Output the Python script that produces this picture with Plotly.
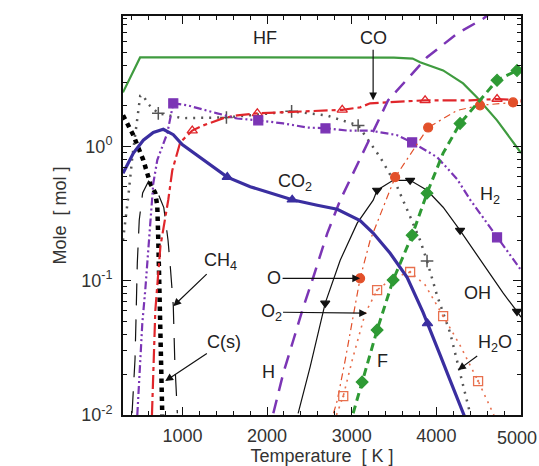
import numpy as np
import plotly.graph_objects as go

# ---------------- data (temperature K, mole) ----------------
HF_T = [298, 500, 1000, 2000, 3000, 3500, 3720, 3808, 4080, 4316, 4481, 4717, 4953, 5000]
HF_v = [2.52, 4.59, 4.59, 4.59, 4.59, 4.58, 4.5, 4.22, 3.67, 2.94, 2.31, 1.56, 0.98, 0.89]

CO_T = [640, 680, 740, 833, 880, 974, 1116, 1246, 1484, 1649, 1885, 2192, 2510, 2888, 3100, 3218, 3867, 4398, 4717, 5000]
CO_v = [0.01, 0.06, 0.18, 0.40, 0.66, 1.07, 1.31, 1.43, 1.62, 1.70, 1.76, 1.79, 1.83, 1.87, 1.95, 2.09, 2.20, 2.20, 2.25, 2.20]
CO_mT = [1116, 1885, 2888, 3867, 4717]
CO_mv = [1.31, 1.76, 1.87, 2.20, 2.25]

CO2_T = [298, 421, 538, 656, 774, 892, 998, 1294, 1530, 1801, 2002, 2297, 2593, 2829, 3099, 3253, 3454, 3654, 3843, 3950, 4044, 4150, 4316, 4340]
CO2_v = [0.63, 0.89, 1.11, 1.27, 1.34, 1.22, 1.03, 0.75, 0.59, 0.50, 0.455, 0.40, 0.364, 0.34, 0.28, 0.226, 0.16, 0.106, 0.058, 0.040, 0.028, 0.019, 0.0103, 0.0095]
CO2_mT = [1530, 2297, 3895]
CO2_mv = [0.59, 0.40, 0.048]

H2_T = [467, 491, 526, 561, 597, 620, 656, 703, 821, 892, 1057, 1411, 1648, 1896, 2192, 2475, 2711, 2947, 3218, 3537, 3714, 4010, 4245, 4400, 4717, 5000]
H2_v = [0.01, 0.0205, 0.048, 0.085, 0.169, 0.296, 0.53, 0.79, 1.25, 2.09, 2.02, 1.76, 1.61, 1.56, 1.48, 1.38, 1.36, 1.31, 1.31, 1.21, 1.07, 0.83, 0.57, 0.40, 0.21, 0.12]
H2_mT = [892, 1896, 2690, 3714, 4717]
H2_mv = [2.09, 1.56, 1.36, 1.07, 0.21]

H_T = [2074, 2192, 2310, 2416, 2546, 2711, 2864, 3254, 3430, 3890, 4245, 4552, 4700]
H_v = [0.0103, 0.0205, 0.036, 0.060, 0.106, 0.225, 0.397, 1.29, 2.2, 4.6, 6.9, 8.9, 10.5]

O_T = [2785, 2830, 2923, 3017, 3099, 3218, 3371, 3513, 3903, 4245, 4516, 4906, 5000]
O_v = [0.0103, 0.0129, 0.0256, 0.0545, 0.104, 0.20, 0.352, 0.589, 1.38, 1.85, 2.02, 2.12, 2.14]
O_mT = [3099, 3513, 3903, 4516, 4906]
O_mv = [0.104, 0.589, 1.38, 2.02, 2.12]

O2_T = [2820, 2900, 3006, 3159, 3300, 3477, 3690, 3867, 4080, 4280, 4493, 4635, 4680]
O2_v = [0.0100, 0.0138, 0.0256, 0.057, 0.085, 0.104, 0.116, 0.093, 0.0545, 0.033, 0.0179, 0.0117, 0.0100]
O2_mT = [2900, 3300, 3690, 4080, 4493]
O2_mv = [0.0138, 0.085, 0.116, 0.0545, 0.0179]

F_T = [3017, 3123, 3300, 3489, 3714, 3890, 4080, 4280, 4516, 4717, 4953, 5000]
F_v = [0.0103, 0.0176, 0.0429, 0.101, 0.218, 0.448, 0.89, 1.48, 2.20, 3.10, 3.67, 3.8]
F_mT = [3123, 3300, 3489, 3714, 3890, 4280, 4717, 4953]
F_mv = [0.0176, 0.0429, 0.101, 0.218, 0.448, 1.48, 3.10, 3.67]

OH_T = [2367, 2509, 2687, 2864, 3065, 3254, 3300, 3489, 3690, 3890, 4080, 4280, 4481, 4788, 4953, 5000]
OH_v = [0.0103, 0.0228, 0.068, 0.142, 0.268, 0.397, 0.471, 0.558, 0.558, 0.471, 0.352, 0.237, 0.155, 0.081, 0.059, 0.0536]
OH_mT = [2687, 3300, 3690, 4280, 4953]
OH_mv = [0.068, 0.471, 0.558, 0.237, 0.059]

H2O_T = [298, 360, 408, 467, 502, 530, 600, 715, 1000, 1520, 2000, 2290, 2700, 3076, 3335, 3537, 3690, 3808, 3890, 4010, 4162, 4280, 4363, 4398]
H2O_v = [0.2, 0.42, 0.83, 1.62, 2.38, 2.42, 2.05, 1.76, 1.62, 1.64, 1.75, 1.82, 1.7, 1.43, 0.83, 0.50, 0.30, 0.20, 0.14, 0.077, 0.041, 0.0205, 0.0129, 0.0103]
H2O_mT = [715, 1520, 2290, 3076, 3890]
H2O_mv = [1.76, 1.64, 1.82, 1.43, 0.14]

CH4_T = [405, 440, 452, 467, 490, 530, 600, 680, 780, 830, 860, 892, 910, 940]
CH4_v = [0.0103, 0.026, 0.053, 0.135, 0.283, 0.45, 0.55, 0.5, 0.35, 0.2, 0.12, 0.065, 0.025, 0.0103]

Cs_T = [298, 420, 538, 620, 679, 703, 715, 727, 750, 762]
Cs_v = [1.70, 1.21, 0.79, 0.53, 0.45, 0.36, 0.20, 0.072, 0.026, 0.01]

x_ticks = [1000, 2000, 3000, 4000, 5000]
x_ticktext = ["1000", "2000", "3000", "4000", ""]
x_last_label = "5000"
y_ticks = [0.01, 0.1, 1]
y_ticktext = ["10<sup>-2</sup>", "10<sup>-1</sup>", "10<sup>0</sup>"]

# ---------------- figure ----------------
fig = go.Figure()

def line(T, v, color, width, dash="solid"):
    fig.add_trace(go.Scatter(x=T, y=v, mode="lines",
                             line=dict(color=color, width=width, dash=dash),
                             hoverinfo="skip"))

def marks(T, v, symbol, color, size, lw=1.2):
    fig.add_trace(go.Scatter(x=T, y=v, mode="markers",
                             marker=dict(symbol=symbol, color=color, size=size,
                                         line=dict(color=color, width=lw)),
                             hoverinfo="skip"))

green = "#3f9b3f"
red = "#e0262b"
blue = "#3a2ea0"
purple = "#7b35b5"
orange = "#e2502a"
orange2 = "#e8704e"
fgreen = "#2e9a34"

line(HF_T, HF_v, green, 2.2)
line(CH4_T, CH4_v, "#111111", 1.2, "22px,14px")
line(Cs_T, Cs_v, "#000000", 4.5, "dot")
line(H2O_T, H2O_v, "#555555", 2.5, "2px,6px")
marks(H2O_mT, H2O_mv, "cross-thin-open", "#555555", 9, 1.5)
line(CO_T, CO_v, red, 2.2, "14px,4px,4px,4px")
marks(CO_mT, CO_mv, "triangle-up-open", red, 9, 1.3)
line(H2_T, H2_v, purple, 2.2, "8px,3px,2px,3px,2px,3px")
marks(H2_mT, H2_mv, "square", purple, 9)
line(H_T, H_v, purple, 2.5, "14px,9px")
line(OH_T, OH_v, "#111111", 1.2)
marks(OH_mT, OH_mv, "triangle-down", "#111111", 8)
line(O_T, O_v, orange, 1.2, "7px,4px,2px,4px")
marks(O_mT, O_mv, "circle", orange, 9)
line(O2_T, O2_v, orange2, 1.6, "2px,5px")
marks(O2_mT, O2_mv, "square-open-dot", orange2, 9, 1.3)
line(F_T, F_v, fgreen, 3, "8px,5px")
marks(F_mT, F_mv, "diamond", fgreen, 9)
line(CO2_T, CO2_v, blue, 3.2)
marks(CO2_mT, CO2_mv, "triangle-up", blue, 9)

tfont = dict(family="Liberation Sans, Arial, sans-serif", size=18, color="#222222")

def label(text, T, v):
    fig.add_annotation(x=T, y=np.log10(v), text=text, showarrow=False, font=tfont)

def arrow(text, T, v, ax, ay):
    fig.add_annotation(x=T, y=np.log10(v), text=text, showarrow=True, font=tfont,
                       ax=ax, ay=ay, arrowhead=2, arrowsize=1.3, arrowwidth=1.2,
                       arrowcolor="#111111", standoff=0)

label("HF", 1978, 6.35)
label("CO<sub>2</sub>", 2334, 0.54)
label("H<sub>2</sub>", 4636, 0.432)
label("OH", 4482, 0.0807)
label("H", 2013, 0.0209)
label("F", 3359, 0.0252)
arrow("CO", 3253, 2.20, 0, -62)
arrow("CH<sub>4</sub>", 892, 0.0646, 47, -45)
arrow("C(s)", 797, 0.0179, 59, -39)
arrow("O", 3099, 0.104, -86, 0)
arrow("O<sub>2</sub>", 3181, 0.0573, -96, -1)
arrow("H<sub>2</sub>O", 4256, 0.0216, 37, -27)

axis_font = dict(family="Liberation Sans, Arial, sans-serif", size=18, color="#333333")

# last x tick label kept inside the page (it sits on the right border)
fig.add_annotation(x=x_ticks[-1], xref="x", y=0, yref="paper", text=x_last_label,
                   showarrow=False, font=axis_font, xanchor="right", xshift=18,
                   yanchor="top", yshift=-11)

fig.update_layout(
    width=539, height=466,
    margin=dict(l=123, r=18, t=16, b=51, autoexpand=False),
    plot_bgcolor="white", paper_bgcolor="white",
    showlegend=False,
    font=axis_font,
    xaxis=dict(range=[298, 5000], tickvals=x_ticks, ticktext=x_ticktext, ticks="inside", ticklen=8,
               tickwidth=1.3, tickcolor="#111111", automargin=False,
               minor=dict(ticks="inside", dtick=200, tick0=0, ticklen=4, tickwidth=1, tickcolor="#111111"),
               showline=True, linewidth=2, linecolor="#111111", mirror="ticks",
               showgrid=False, zeroline=False, tickfont=axis_font, ticklabelstandoff=3,
               title=dict(text="Temperature  [ K ]", font=axis_font, standoff=4)),
    yaxis=dict(type="log", range=[-2, 0.97], tickvals=y_ticks, ticktext=y_ticktext,
               ticks="inside", ticklen=8, tickwidth=1.3, tickcolor="#111111", automargin=False,
               ticklabeloverflow="allow",
               minor=dict(ticks="inside", ticklen=4, tickwidth=1, tickcolor="#111111",
                          tickvals=[m * d for d in (0.01, 0.1, 1) for m in range(2, 10)]),
               showline=True, linewidth=2, linecolor="#111111", mirror="ticks",
               showgrid=False, zeroline=False, tickfont=axis_font, ticklabelstandoff=5,
               title=dict(text="Mole  [ mol ]", font=axis_font, standoff=10)),
)

fig.write_html("out.html")
